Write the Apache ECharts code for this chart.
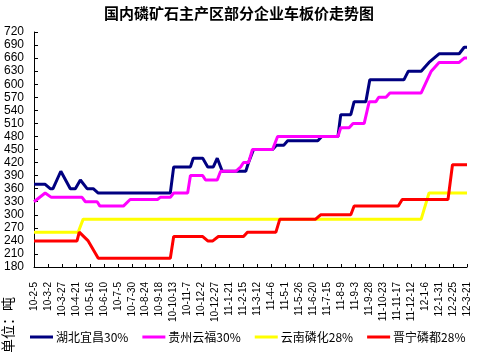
<!DOCTYPE html>
<html>
<head>
<meta charset="utf-8">
<script src="https://cdn.jsdelivr.net/npm/echarts@6/dist/echarts.min.js"></script>
<style>
html, body { margin: 0; padding: 0; background: #fff; }
#chart { width: 478px; height: 352px; }
</style>
</head>
<body>
<div id="chart"></div>
<script>
// x 轴标签，每隔 25 天一个（从 2010-2-5 起）
const dateLabels = ['10-2-5', '10-3-2', '10-3-27', '10-4-21', '10-5-16', '10-6-10', '10-7-5', '10-7-30',
  '10-8-24', '10-9-18', '10-10-13', '10-11-7', '10-12-2', '10-12-27', '11-1-21', '11-2-15',
  '11-3-12', '11-4-6', '11-5-1', '11-5-26', '11-6-20', '11-7-15', '11-8-9', '11-9-3',
  '11-9-28', '11-10-23', '11-11-17', '11-12-12', '12-1-6', '12-1-31', '12-2-25', '12-3-21']

// 各企业价格：天数（距 2010-2-5）+ 价格
const hubeiDays = [0, 20, 29, 34, 48, 65, 74, 83, 95, 106, 115, 244, 250, 280, 285, 302, 311, 321, 328, 337, 379, 384, 393, 427, 434, 447, 454, 508, 515, 544, 549, 567, 573, 594, 601, 662, 670, 693, 707, 725, 761, 770, 775]
const hubeiPrice = [370, 370, 360, 360, 400, 360, 360, 380, 360, 360, 350, 350, 410, 410, 430, 430, 410, 410, 430, 400, 400, 420, 450, 450, 460, 460, 470, 470, 480, 480, 530, 530, 560, 560, 610, 610, 630, 630, 650, 670, 670, 685, 685]

const guizhouDays = [0, 20, 31, 86, 92, 113, 118, 160, 172, 221, 226, 244, 250, 275, 280, 302, 307, 328, 334, 361, 370, 375, 384, 391, 427, 436, 544, 549, 564, 571, 591, 600, 612, 617, 630, 637, 693, 711, 725, 761, 770, 775]
const guizhouPrice = [330, 350, 340, 340, 330, 330, 320, 320, 335, 335, 340, 340, 350, 350, 390, 390, 380, 380, 400, 400, 410, 420, 420, 450, 450, 480, 480, 500, 500, 510, 510, 560, 560, 570, 570, 580, 580, 630, 650, 650, 660, 660]

const yunnanDays = [0, 79, 88, 693, 707, 775]
const yunnanPrice = [260, 260, 290, 290, 350, 350]

const jinningDays = [0, 77, 81, 97, 115, 244, 250, 302, 311, 320, 330, 375, 382, 433, 440, 504, 513, 567, 573, 652, 659, 741, 749, 775]
const jinningPrice = [240, 240, 260, 240, 200, 200, 250, 250, 240, 240, 250, 250, 260, 260, 290, 290, 300, 300, 320, 320, 335, 335, 415, 415]

const seriesNames = ['湖北宜昌30%', '贵州云福30%', '云南磷化28%', '晋宁磷都28%']
const seriesColors = ['#000080', '#ff00ff', '#ffff00', '#ff0000']

function pairs (days, vals) {
  return days.map((d, i) => [d, vals[i]])
}

const chart = echarts.init(document.getElementById('chart'))
const lines = [
  pairs(hubeiDays, hubeiPrice),
  pairs(guizhouDays, guizhouPrice),
  pairs(yunnanDays, yunnanPrice),
  pairs(jinningDays, jinningPrice)
]

chart.setOption({
  animation: false,
  color: seriesColors,
  title: {
    text: '国内磷矿石主产区部分企业车板价走势图',
    left: 'center',
    top: 1,
    textStyle: { fontSize: 15, fontWeight: 'bold', color: '#000', fontFamily: 'Noto Sans CJK SC' }
  },
  grid: { left: 34, right: 11, top: 32, bottom: 85 },
  legend: {
    data: seriesNames,
    left: 30,
    top: 331,
    width: 448,
    padding: 0,
    icon: 'rect',
    itemWidth: 23,
    itemHeight: 3,
    itemGap: 14,
    textStyle: { fontSize: 12, color: '#000', fontFamily: 'Noto Sans CJK SC', padding: [0, 0, 0, -2] }
  },
  xAxis: {
    type: 'value',
    min: 0,
    max: 775,
    interval: 25,
    axisLine: { lineStyle: { color: '#000' } },
    axisTick: { inside: true, length: 3, lineStyle: { color: '#000' } },
    splitLine: { show: false },
    axisLabel: {
      rotate: 90,
      margin: 15,
      fontSize: 10,
      color: '#000',
      fontFamily: 'Liberation Sans',
      formatter: v => dateLabels[Math.round(v / 25)]
    }
  },
  yAxis: {
    type: 'value',
    min: 180,
    max: 720,
    interval: 30,
    axisLine: { show: true, lineStyle: { color: '#000' } },
    axisTick: { show: true, inside: true, length: 4, lineStyle: { color: '#000' } },
    splitLine: { show: false },
    axisLabel: { fontSize: 12, color: '#000', margin: 10, fontFamily: 'Liberation Sans' }
  },
  graphic: [{
    type: 'text',
    x: 8,
    y: 325,
    rotation: Math.PI / 2,
    style: {
      text: '单位：吨',
      fontSize: 14,
      fill: '#000',
      fontFamily: 'Noto Sans CJK SC',
      align: 'center',
      verticalAlign: 'middle'
    }
  }],
  series: seriesNames.map((name, i) => ({
    name: name,
    type: 'line',
    data: lines[i],
    symbol: 'none',
    lineStyle: { width: 3, color: seriesColors[i] }
  }))
})
</script>
</body>
</html>
